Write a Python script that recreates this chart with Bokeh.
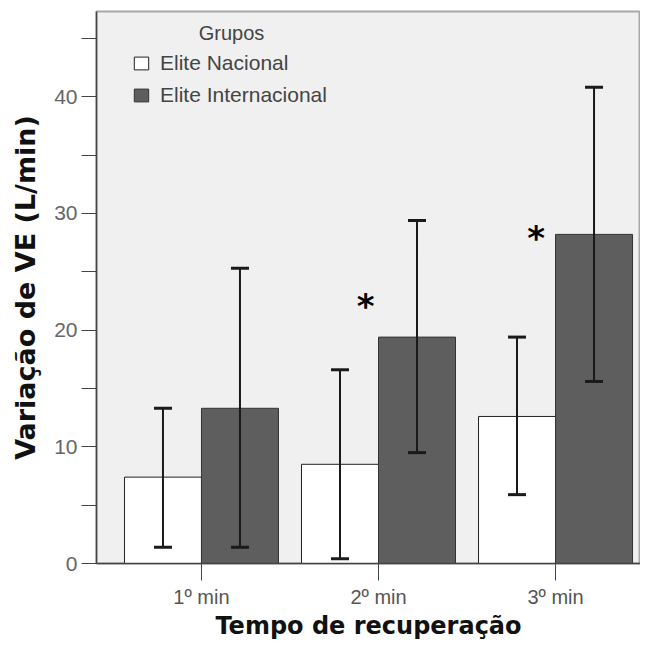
from bokeh.plotting import figure
from bokeh.models import (ColumnDataSource, Whisker, FixedTicker, Legend, LegendItem,
                          Label, Range1d)
from bokeh.core.properties import value
from bokeh.embed import file_html
from bokeh.resources import INLINE

categories = ["1º min", "2º min", "3º min"]
groups = ["Elite Nacional", "Elite Internacional"]
nacional_mean = [7.4, 8.5, 12.6]
nacional_low = [1.4, 0.4, 5.9]
nacional_high = [13.3, 16.6, 19.4]
internacional_mean = [13.3, 19.4, 28.2]
internacional_low = [1.4, 9.5, 15.6]
internacional_high = [25.3, 29.4, 40.8]
sig_labels = ["*", "*"]
sig_x = [1.927, 2.89]
sig_y = [22.6, 28.4]
y_ticks = [0, 5, 10, 15, 20, 25, 30, 35, 40, 45]
x_title = "Tempo de recuperação"
y_title = "Variação de VE (L/min)"
legend_title = "Grupos"

pos = [1, 2, 3]
bw = 0.435
off = bw / 2

p = figure(width=640, height=642, output_backend="svg", toolbar_location=None,
           x_range=Range1d(0.407, 3.48), y_range=Range1d(0, 47.3),
           min_border_left=96, min_border_top=11, min_border_right=0, min_border_bottom=70)
p.background_fill_color = "#f0f0f0"
p.border_fill_color = "white"
p.outline_line_color = "#a8a8a8"
p.outline_line_width = 2
p.grid.visible = False

src_n = ColumnDataSource(dict(x=[v - off for v in pos], top=nacional_mean,
                              lo=nacional_low, hi=nacional_high))
src_i = ColumnDataSource(dict(x=[v + off for v in pos], top=internacional_mean,
                              lo=internacional_low, hi=internacional_high))

r_n = p.vbar(x="x", top="top", bottom=0, width=bw, source=src_n,
             fill_color="white", line_color="#222222", line_width=1)
r_i = p.vbar(x="x", top="top", bottom=0, width=bw, source=src_i,
             fill_color="#5e5e5e", line_color="#333333", line_width=1)

for src in (src_n, src_i):
    w = Whisker(base="x", lower="lo", upper="hi", source=src,
                line_color="#1a1a1a", line_width=2, level="annotation")
    for h in (w.upper_head, w.lower_head):
        h.size = 18
        h.line_width = 3
        h.line_color = "#1a1a1a"
    p.add_layout(w)

p.text(x=sig_x, y=sig_y, text=sig_labels, text_font=value("DejaVu Sans"),
       text_font_size="34px", text_font_style="bold", text_color="black",
       text_align="center", text_baseline="middle", y_offset=6)

# axes
p.yaxis.ticker = FixedTicker(ticks=y_ticks)
p.yaxis.major_label_overrides = {t: ("" if t % 10 else str(t)) for t in y_ticks}
p.yaxis.minor_tick_line_color = None
p.yaxis.major_tick_in = 0
p.yaxis.major_tick_out = 15
p.yaxis.axis_line_color = "#444444"
p.yaxis.major_tick_line_color = "#444444"
p.yaxis.axis_line_width = 1.5
p.yaxis.major_label_text_font = "Liberation Sans"
p.yaxis.major_label_text_font_size = "21px"
p.yaxis.major_label_text_color = "#666666"
p.yaxis.major_label_standoff = 4
p.yaxis.axis_label = y_title
p.yaxis.axis_label_text_font = "DejaVu Sans"
p.yaxis.axis_label_text_font_style = "bold"
p.yaxis.axis_label_text_font_size = "27px"
p.yaxis.axis_label_text_color = "#111111"
p.yaxis.axis_label_standoff = 10

p.xaxis.ticker = FixedTicker(ticks=pos)
p.xaxis.major_label_overrides = {v: c for v, c in zip(pos, categories)}
p.xaxis.minor_tick_line_color = None
p.xaxis.major_tick_in = 0
p.xaxis.major_tick_out = 17
p.xaxis.axis_line_color = "#444444"
p.xaxis.major_tick_line_color = "#444444"
p.xaxis.axis_line_width = 1.5
p.xaxis.major_label_text_font = "Liberation Sans"
p.xaxis.major_label_text_font_size = "20px"
p.xaxis.major_label_text_color = "#555555"
p.xaxis.major_label_standoff = 5
p.xaxis.axis_label = x_title
p.xaxis.axis_label_text_font = "DejaVu Sans"
p.xaxis.axis_label_text_font_style = "bold"
p.xaxis.axis_label_text_font_size = "24px"
p.xaxis.axis_label_text_color = "#111111"
p.xaxis.axis_label_standoff = 1

legend = Legend(items=[LegendItem(label=groups[0], renderers=[r_n]),
                       LegendItem(label=groups[1], renderers=[r_i])],
                location=(36, 456), padding=0, margin=0, spacing=8,
                glyph_width=18, glyph_height=16, label_height=24,
                label_standoff=10, label_text_font="Liberation Sans",
                label_text_font_size="21px", label_text_color="#444444",
                border_line_color=None, background_fill_alpha=0)
p.add_layout(legend, "center")

p.add_layout(Label(x=135, y=531, x_units="screen", y_units="screen", text=legend_title,
                   text_font="Liberation Sans", text_font_size="20px",
                   text_color="#444444", text_align="center", text_baseline="middle"))

open("out.html", "w").write(file_html(p, INLINE))
